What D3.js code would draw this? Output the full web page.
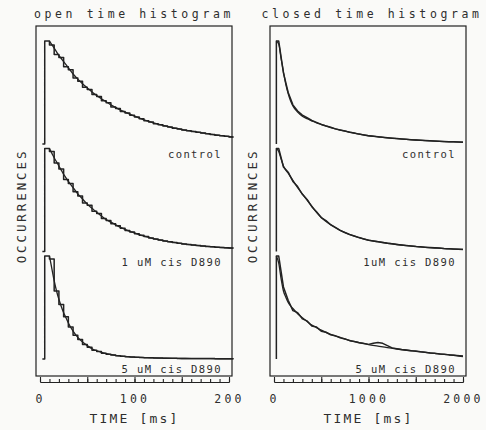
<!DOCTYPE html>
<html>
<head>
<meta charset="utf-8">
<script src="https://cdn.jsdelivr.net/npm/d3@7/dist/d3.min.js"></script>
<style>
  body { margin: 0; background: #fafaf8; }
  svg text { font-family: "DejaVu Sans Mono", monospace; fill: #2e2e2e; }
</style>
</head>
<body>
<svg id="chart" width="486" height="430"></svg>
<script>
// ---- data (normalised to the peak of each histogram) ----
const panelTitles = ["open time histogram", "closed time histogram"];
const rowLabels = [
    ["control", "1 uM cis D890", "5 uM cis D890"],
    ["control", "1uM cis D890", "5 uM cis D890"]
];
const xTickLabels = [[0, 100, 200], [0, 1000, 2000]];

// open times: 5 ms bins starting at 5 ms
const openBinStart = 5, openBinWidth = 5;
const openControl = [1.0, 0.96, 0.87, 0.84, 0.75, 0.72, 0.64, 0.61, 0.55, 0.53,
    0.48, 0.46, 0.42, 0.40, 0.36, 0.345, 0.315, 0.30, 0.28, 0.262,
    0.245, 0.226, 0.214, 0.197, 0.187, 0.174, 0.166, 0.154, 0.146, 0.136,
    0.129, 0.121, 0.114, 0.106, 0.099, 0.092, 0.086, 0.080, 0.075, 0.069];
const open1uM = [1.0, 0.97, 0.86, 0.80, 0.70, 0.66, 0.58, 0.54, 0.47, 0.45,
    0.39, 0.37, 0.32, 0.30, 0.27, 0.25, 0.225, 0.205, 0.19, 0.172,
    0.158, 0.145, 0.132, 0.122, 0.111, 0.102, 0.094, 0.087, 0.080, 0.074,
    0.068, 0.063, 0.058, 0.053, 0.049, 0.045, 0.042, 0.039, 0.036, 0.033];
const open5uM = [1.0, 0.97, 0.66, 0.53, 0.41, 0.31, 0.23, 0.19, 0.14, 0.115,
    0.085, 0.072, 0.055, 0.046, 0.038, 0.032, 0.027, 0.022, 0.019, 0.016,
    0.014, 0.012, 0.011, 0.010, 0.009, 0.008, 0.007, 0.007, 0.006, 0.006,
    0.005, 0.005, 0.005, 0.004, 0.004, 0.004, 0.003, 0.003, 0.003, 0.003];

// fitted curves, open times
const openFitT = [10, 12.5, 15, 17.5, 20, 22.5, 25, 27.5, 30, 35, 40, 45, 50, 55, 60, 65, 70, 75, 80, 85,
    90, 95, 100, 110, 120, 130, 140, 150, 160, 170, 180, 190, 200, 204];
const openControlFit = [1.0, 0.965, 0.93, 0.895, 0.86, 0.83, 0.80, 0.77, 0.74, 0.68, 0.63, 0.585, 0.545, 0.505,
    0.47, 0.44, 0.41, 0.38, 0.355, 0.33, 0.31, 0.29, 0.27, 0.235, 0.205, 0.18, 0.16, 0.14, 0.125, 0.11,
    0.095, 0.083, 0.072, 0.068];
const open1uMFit = [1.0, 0.955, 0.91, 0.87, 0.83, 0.79, 0.75, 0.715, 0.68, 0.62, 0.56, 0.51, 0.46, 0.42,
    0.38, 0.345, 0.31, 0.285, 0.26, 0.235, 0.215, 0.195, 0.18, 0.15, 0.125, 0.105, 0.09, 0.076, 0.065, 0.055,
    0.047, 0.04, 0.034, 0.032];
const open5uMFit = [1.0, 0.88, 0.76, 0.66, 0.58, 0.51, 0.45, 0.40, 0.35, 0.27, 0.21, 0.165, 0.13, 0.10,
    0.08, 0.065, 0.052, 0.043, 0.035, 0.03, 0.025, 0.021, 0.018, 0.014, 0.01, 0.008, 0.006, 0.005, 0.004, 0.0035,
    0.003, 0.0025, 0.002, 0.002];

// closed times: 50 ms bins starting at 25 ms
const closedBinStart = 25, closedBinWidth = 50;
const closedControl = [1.0, 0.69, 0.50, 0.38, 0.32, 0.28, 0.255, 0.228, 0.21, 0.19,
    0.175, 0.162, 0.147, 0.136, 0.126, 0.115, 0.106, 0.096, 0.088, 0.081,
    0.076, 0.071, 0.066, 0.061, 0.057, 0.053, 0.049, 0.045, 0.042, 0.039,
    0.036, 0.033, 0.031, 0.029, 0.027, 0.025, 0.023, 0.021, 0.019, 0.018];
const closed1uM = [1.0, 0.82, 0.77, 0.68, 0.63, 0.555, 0.505, 0.435, 0.385, 0.33,
    0.30, 0.26, 0.235, 0.205, 0.185, 0.165, 0.15, 0.135, 0.122, 0.11,
    0.103, 0.095, 0.088, 0.08, 0.075, 0.069, 0.063, 0.058, 0.054, 0.049,
    0.046, 0.042, 0.039, 0.036, 0.033, 0.029, 0.027, 0.025, 0.022, 0.02];
const closed5uM = [1.0, 0.70, 0.57, 0.47, 0.45, 0.39, 0.37, 0.32, 0.31, 0.27,
    0.26, 0.235, 0.225, 0.205, 0.195, 0.178, 0.17, 0.158, 0.15, 0.142,
    0.152, 0.16, 0.152, 0.13, 0.108, 0.10, 0.092, 0.088, 0.08, 0.077,
    0.07, 0.066, 0.058, 0.055, 0.048, 0.046, 0.04, 0.036, 0.03, 0.025];

// fitted curves, closed times
const closedFitT = [25, 50, 75, 100, 125, 150, 175, 200, 250, 300, 350, 400, 450, 500, 600, 700, 800, 900,
    1000, 1100, 1200, 1300, 1400, 1500, 1600, 1700, 1800, 1900, 2000];
const closedControlFit = [1.0, 0.97, 0.83, 0.70, 0.58, 0.49, 0.42, 0.37, 0.31, 0.27, 0.245, 0.225, 0.205,
    0.19, 0.16, 0.135, 0.115, 0.095, 0.08, 0.07, 0.06, 0.052, 0.045, 0.039, 0.033, 0.028, 0.024, 0.021, 0.018];
const closed1uMFit = [1.0, 0.97, 0.9, 0.83, 0.79, 0.76, 0.725, 0.69, 0.62, 0.56, 0.50, 0.44, 0.38, 0.33,
    0.26, 0.205, 0.165, 0.135, 0.11, 0.095, 0.08, 0.068, 0.058, 0.049, 0.04, 0.034, 0.028, 0.024, 0.02];
const closed5uMFit = [1.0, 0.93, 0.78, 0.66, 0.6, 0.55, 0.515, 0.49, 0.44, 0.40, 0.365, 0.33, 0.305, 0.28,
    0.24, 0.21, 0.18, 0.16, 0.14, 0.125, 0.11, 0.097, 0.085, 0.075, 0.065, 0.055, 0.045, 0.037, 0.03];

// ---- layout ----
const svg = d3.select("#chart");
const ink = "#222";

const panels = [
    {
        title: panelTitles[0], labels: rowLabels[0], ticks: xTickLabels[0],
        domain: [0, 200], range: [40, 229], box: [36, 232], minor: 10, major: 50,
        binStart: openBinStart, binWidth: openBinWidth, foot: 2.5, stepped: true,
        hists: [openControl, open1uM, open5uM],
        fitT: openFitT, fits: [openControlFit, open1uMFit, open5uMFit],
        titleX: 134, yLabelX: 22
    },
    {
        title: panelTitles[1], labels: rowLabels[1], ticks: xTickLabels[1],
        domain: [0, 2000], range: [274, 463], box: [270, 466], minor: 100, major: 500,
        binStart: closedBinStart, binWidth: closedBinWidth, foot: 0, stepped: false,
        hists: [closedControl, closed1uM, closed5uM],
        fitT: closedFitT, fits: [closedControlFit, closed1uMFit, closed5uMFit],
        titleX: 372, yLabelX: 253
    }
];

const boxTop = 26, boxBottom = 376, axisY = 382;
const rowTop0 = 41, rowPitch = 107.5, rowHeight = 103;

panels.forEach(p => {
    const x = d3.scaleLinear().domain(p.domain).range(p.range);
    const g = svg.append("g");

    // frame
    g.append("rect")
        .attr("x", p.box[0]).attr("y", boxTop)
        .attr("width", p.box[1] - p.box[0]).attr("height", boxBottom - boxTop)
        .attr("fill", "none").attr("stroke", ink).attr("stroke-width", 1.2);

    // title
    g.append("text")
        .attr("x", p.titleX).attr("y", 18)
        .attr("text-anchor", "middle")
        .attr("font-size", 11.5).attr("letter-spacing", 3.6)
        .text(p.title);

    // y label
    g.append("text")
        .attr("transform", `translate(${p.yLabelX + 4}, 206) rotate(-90)`)
        .attr("text-anchor", "middle")
        .attr("font-size", 12.5).attr("letter-spacing", 2.9)
        .text("OCCURRENCES");

    p.hists.forEach((h, i) => {
        const top = rowTop0 + i * rowPitch;
        const y = d3.scaleLinear().domain([0, 1]).range([top + rowHeight, top]);

        const pts = [[p.binStart - p.foot, 0]];
        let histLine;
        if (p.stepped) {
            // open times: classic stepped histogram
            h.forEach((v, k) => pts.push([p.binStart + k * p.binWidth, v]));
            pts.push([p.binStart + h.length * p.binWidth, h[h.length - 1]]);
            histLine = d3.line().x(d => x(d[0])).y(d => y(d[1])).curve(d3.curveStepAfter);
        } else {
            // closed times: bins too narrow to show steps, drawn through bin centres
            pts.push([p.binStart, h[0]]);
            h.forEach((v, k) => pts.push([p.binStart + (k + 0.5) * p.binWidth, v]));
            histLine = d3.line().x(d => x(d[0])).y(d => y(d[1]));
        }
        g.append("path")
            .attr("d", histLine(pts))
            .attr("fill", "none").attr("stroke", ink).attr("stroke-width", 1.5)
            .attr("stroke-linejoin", "round");

        // fitted curve
        const fitPts = p.fitT.map((t, k) => [t, p.fits[i][k]]);
        const smooth = d3.line().x(d => x(d[0])).y(d => y(d[1])).curve(d3.curveMonotoneX);
        g.append("path")
            .attr("d", smooth(fitPts))
            .attr("fill", "none").attr("stroke", ink).attr("stroke-width", 1.3);

        // condition label
        g.append("text")
            .attr("x", p.box[1] - 10).attr("y", top + rowHeight + 14)
            .attr("text-anchor", "end")
            .attr("font-size", 10.5).attr("letter-spacing", 1.4)
            .text(p.labels[i]);
    });

    // time axis below the frame, ticks pointing up
    const minorAxis = d3.axisBottom(x)
        .tickValues(d3.range(p.domain[0], p.domain[1] + 1, p.minor))
        .tickSize(-3).tickSizeOuter(0).tickFormat("");
    const majorAxis = d3.axisBottom(x)
        .tickValues(d3.range(p.domain[0], p.domain[1] + 1, p.major))
        .tickSize(-5).tickSizeOuter(0).tickPadding(13)
        .tickFormat(d => p.ticks.includes(d) ? d : "");
    const ax1 = g.append("g").attr("transform", `translate(0, ${axisY})`).call(minorAxis);
    const ax2 = g.append("g").attr("transform", `translate(0, ${axisY})`).call(majorAxis);
    [ax1, ax2].forEach(a => {
        a.selectAll("path, line").attr("stroke", ink).attr("stroke-width", 1.1);
        a.selectAll("text")
            .style("font-family", "DejaVu Sans Mono, monospace")
            .style("font-size", "11.5px").style("letter-spacing", "3.2px")
            .style("fill", "#2e2e2e");
    });

    g.append("text")
        .attr("x", (p.range[0] + p.range[1]) / 2).attr("y", 423)
        .attr("text-anchor", "middle")
        .attr("font-size", 13).attr("letter-spacing", 2.2)
        .text("TIME [ms]");
});
</script>
</body>
</html>
